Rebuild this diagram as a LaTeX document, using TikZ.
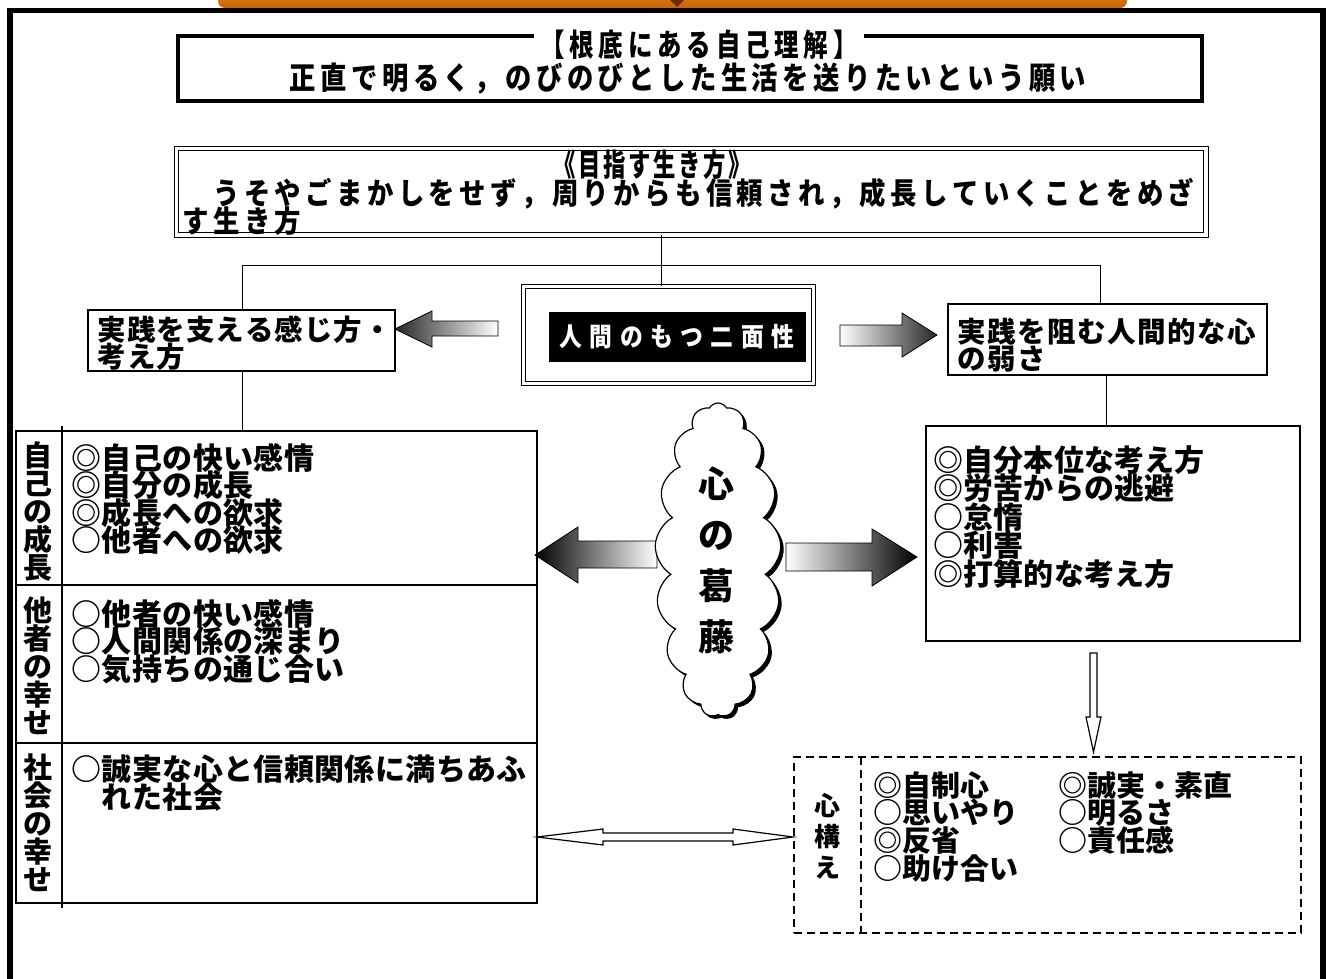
\documentclass[tikz,border=0pt]{standalone}
\usepackage{fontspec}
\newfontfamily\jp{Noto Sans CJK JP}
\usetikzlibrary{shapes.symbols}
\newdimen\cwid
\def\hsc{1}
\def\chend{\chend}
\def\chloop#1{\ifx\chend#1\else\makebox[\cwid][c]{\scalebox{\hsc}[1]{#1}}\expandafter\chloop\fi}
\newcommand\sptx[1]{\chloop#1\chend}
\definecolor{bannerA}{HTML}{E8841A}
\definecolor{bannerB}{HTML}{C8620A}
\definecolor{bannerD}{HTML}{6A2A08}
\tikzset{
  fsc/.style n args={4}{font={\jp\bfseries\fontsize{#1}{#2}\selectfont\lineskiplimit=-100pt\lineskip=0pt\cwid=#3pt\def\hsc{#4}}},
  fs/.style n args={3}{fsc={#1}{#2}{#3}{1}},
  txt/.style={inner sep=0pt, align=left},
  box/.style={draw, line width=1.2, inner sep=0pt},
  dbox/.style={draw, double, double distance=3.5, inner sep=0pt},
  dashline/.style={dash pattern=on 8pt off 5pt, line width=1.8},
  cloudshape/.style={cloud, cloud puffs=17, cloud puff arc=120, cloud ignores aspect, minimum width=126, minimum height=314, inner sep=0pt},
  hollow/.style={line width=1.2, fill=white},
  lnk/.style={line width=1},
}
\begin{document}
\begin{tikzpicture}[x=1pt,y=-1pt]
\useasboundingbox (0,0) rectangle (1326,978);
% banner and frame
\shade[top color=bannerA, bottom color=bannerB, rounded corners=7pt] (218,-12) rectangle (1127,8);
\fill[bannerD] (670,0) -- (684,0) -- (677,7) -- cycle;
\draw[line width=5.5] (10,10.5) rectangle (1323,1010);
% root box
\node[draw, line width=4, minimum width=1024, minimum height=65, inner sep=0pt] (root) at (690,68.5) {};
\node[txt, fsc={31}{30}{31.5}{0.85}, fill=white, inner xsep=4pt, inner ysep=3pt] (roottitle) at (699,45) {\resizebox{322pt}{\height}{\sptx{【根底にある自己理解】}}};
\node[txt, fsc={31}{30}{30.8}{0.85}] (rootline) at (688,79) {\sptx{正直で明るく，のびのびとした生活を送りたいという願い}};
% aim box
\node[dbox, line width=1, minimum width=1029.5, minimum height=86.5] (aim) at (691,191.5) {};
\node[txt, fsc={31}{28}{25}{0.72}] (aimtitle) at (652,165) {\sptx{《目指す生き方》}};
\node[txt, fsc={30}{28}{30.8}{0.88}, anchor=north west] (aimtext) at (180,177.5) {\sptx{　うそやごまかしをせず，周りからも信頼され，成長していくことをめざ}\\\sptx{す生き方}};
% hubs
\coordinate (hubL) at (242,265);
\coordinate (hubC) at (661,265);
\coordinate (hubR) at (1100,265);
\coordinate (rlink) at (1106,400);
% two-face box
\node[dbox, line width=1.2, minimum width=290, minimum height=97] (twofaceframe) at (668.5,335) {};
\node[fill=black, minimum width=257, minimum height=50, inner sep=0pt] (twofacebg) at (677,337) {};
\node[text=white, inner sep=0pt, fs={26}{28}{34.5}] (twoface) at (twofacebg.center) {\resizebox{242pt}{\height}{\sptx{人間のもつ二面性}}};
% heads
\node[box, minimum width=307, minimum height=61] (leftbox) at (241.5,340.5) {};
\node[txt, fs={28.5}{27}{29.5}, anchor=north west] (lefttxt) at (97,315.5) {\sptx{実践を支える感じ方・}\\\sptx{考え方}};
\node[box, minimum width=319, minimum height=71] (weakhead) at (1107.5,339.5) {};
\node[txt, fs={28.5}{27}{30}, anchor=north west] (weaktxt) at (957,317.5) {\sptx{実践を阻む人間的な心}\\\sptx{の弱さ}};
% small arrows
\shadedraw[left color=black!85, right color=white, line width=0.8] (395,329) -- (432,311) -- (432,321) -- (498,321) -- (498,336) -- (432,336) -- (432,347) -- cycle;
\shadedraw[left color=white, right color=black!85, line width=0.8] (840,325) -- (902,325) -- (902,313) -- (937,335) -- (902,357) -- (902,346) -- (840,346) -- cycle;
% table
\node[draw, line width=1.5, minimum width=521, minimum height=472, inner sep=0pt] (table) at (276.5,667) {};
\draw[line width=1.5] (16,585) -- (537,585);
\draw[line width=1.5] (16,743) -- (537,743);
\draw[line width=1.5] (62,426) -- (62,908);
\node[fs={29}{28}{29}, align=center, inner sep=0pt] (lab1) at (38,511) {自\\己\\の\\成\\長};
\node[fs={29}{28}{29}, align=center, inner sep=0pt] (lab2) at (38,666) {他\\者\\の\\幸\\せ};
\node[fs={29}{28}{29}, align=center, inner sep=0pt] (lab3) at (38,823) {社\\会\\の\\幸\\せ};
\node[txt, fs={30}{27.5}{30.4}, anchor=north west] (items1) at (71,443) {\sptx{◎自己の快い感情}\\\sptx{◎自分の成長}\\\sptx{◎成長への欲求}\\\sptx{○他者への欲求}};
\node[txt, fs={30}{27.5}{30.4}, anchor=north west] (items2) at (71,599) {\sptx{○他者の快い感情}\\\sptx{○人間関係の深まり}\\\sptx{○気持ちの通じ合い}};
\node[txt, fs={30}{27.5}{30.4}, anchor=north west] (items3) at (71,755) {\sptx{○誠実な心と信頼関係に満ちあふ}\\\sptx{　れた社会}};
% weak box
\node[box, minimum width=374, minimum height=215] (weakbox) at (1113,533.5) {};
\node[txt, fs={30}{28.5}{30.2}, anchor=north west] (weakitems) at (933,445) {\sptx{◎自分本位な考え方}\\\sptx{◎労苦からの逃避}\\\sptx{○怠惰}\\\sptx{○利害}\\\sptx{◎打算的な考え方}};
% connectors
\draw[lnk] (hubL) -- (hubR);
\draw[lnk] (aim.south -| hubC) -- (twofaceframe.north -| hubC);
\draw[lnk] (hubL) -- (hubL |- leftbox.north);
\draw[lnk] (leftbox.south -| hubL) -- (table.north -| hubL);
\draw[lnk] (hubR) -- (hubR |- weakhead.north);
\draw[lnk] (weakhead.south -| rlink) -- (weakbox.north -| rlink);
% big arrows
\shadedraw[left color=black, right color=white, line width=0.8] (535,555) -- (578,527) -- (578,541) -- (657,541) -- (657,568) -- (578,568) -- (578,583) -- cycle;
\shadedraw[left color=white, right color=black, line width=0.8] (786,543) -- (872,543) -- (872,529) -- (917,557) -- (872,586) -- (872,571) -- (786,571) -- cycle;
% cloud
\node[cloudshape, fill=black] (cloudshadow) at (721,563) {};
\node[cloudshape, draw, line width=1.2, fill=white] (cloudnode) at (718,560) {};
\node[fs={36}{51}{36}, align=center, inner sep=0pt] (cloudtxt) at (716,560) {心\\の\\葛\\藤};
% down arrow
\draw[hollow] (1090,653) -- (1097,653) -- (1097,717) -- (1101,717) -- (1093.5,752) -- (1086,717) -- (1090,717) -- cycle;
% resolve box
\node[draw, dashline, minimum width=507, minimum height=176, inner sep=0pt] (resolve) at (1047.5,845) {};
\draw[dashline] (861,757) -- (861,933);
\node[fs={26}{31}{26}, align=center, inner sep=0pt] (reslab) at (827,836) {心\\構\\え};
\node[txt, fs={29}{27.7}{29}, anchor=north west] (res1) at (873,771) {\sptx{◎自制心}\\\sptx{○思いやり}\\\sptx{◎反省}\\\sptx{○助け合い}};
\node[txt, fs={29}{27.7}{29}, anchor=north west] (res2) at (1058,771) {\sptx{◎誠実・素直}\\\sptx{○明るさ}\\\sptx{○責任感}};
% double arrow
\draw[hollow] (537,837) -- (603,829) -- (603,833) -- (733,833) -- (733,829) -- (793,837) -- (733,845) -- (733,841) -- (603,841) -- (603,845) -- cycle;
\end{tikzpicture}
\end{document}
